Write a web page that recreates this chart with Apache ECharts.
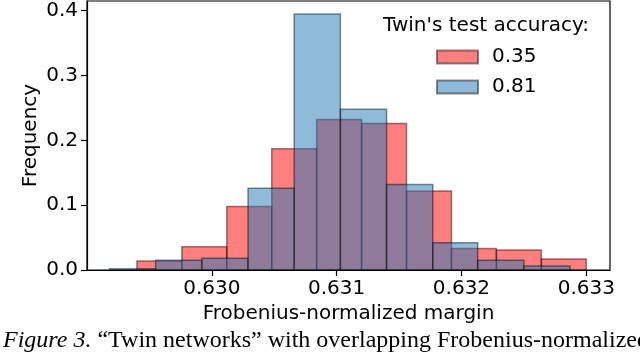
<!DOCTYPE html>
<html>
<head>
<meta charset="utf-8">
<script src="https://cdn.jsdelivr.net/npm/echarts@6/dist/echarts.min.js"></script>
<style>
  html, body { margin: 0; padding: 0; background: #fff; }
  #chart { width: 640px; height: 358px; }
</style>
</head>
<body>
<div id="chart"></div>
<script>
/* ---------- data (histogram bins) ---------- */
const seriesNames = ['0.35', '0.81'];

// twin accuracy 0.35 (red)
const redEdges = [0.62940, 0.62976, 0.63012, 0.63048, 0.63084, 0.63120,
                  0.63156, 0.63192, 0.63228, 0.63264, 0.63300];
const redFreq  = [0.014, 0.036, 0.098, 0.187, 0.232, 0.226, 0.122, 0.033, 0.031, 0.017];

// twin accuracy 0.81 (blue)
const blueEdges = [0.62918, 0.62955, 0.62992, 0.63029, 0.63066, 0.63103,
                   0.63140, 0.63177, 0.63213, 0.63250, 0.63287];
const blueFreq  = [0.002, 0.015, 0.018, 0.126, 0.395, 0.248, 0.132, 0.042, 0.015, 0.006];

const xTicks = [0.630, 0.631, 0.632, 0.633];
const yTicks = [0.0, 0.1, 0.2, 0.3, 0.4];

/* ---------- helpers ---------- */
const toBins = (edges, freq) => freq.map((f, i) => [edges[i], edges[i + 1], f]);

const FONT = 'DejaVu Sans';

function histRender(params, api) {
  const p0 = api.coord([api.value(0), api.value(2)]);
  const p1 = api.coord([api.value(1), 0]);
  return {
    type: 'rect',
    shape: { x: p0[0], y: p0[1], width: p1[0] - p0[0], height: p1[1] - p0[1] },
    style: api.style()
  };
}

const chart = echarts.init(document.getElementById('chart'));

chart.setOption({
  backgroundColor: '#fff',
  animation: false,
  textStyle: { fontFamily: FONT },
  grid: {
    left: 87, right: 30, top: 1, bottom: 88,
    show: true, borderColor: '#000', borderWidth: 1.2
  },
  xAxis: {
    type: 'value',
    min: 0.629,
    max: 0.63319,
    interval: 0.001,
    name: 'Frobenius-normalized margin',
    nameLocation: 'middle',
    nameGap: 34,
    nameMoveOverlap: false,
    nameTextStyle: { fontSize: 20, color: '#000', fontFamily: FONT, verticalAlign: 'top' },
    axisLine: { show: true, onZero: false, lineStyle: { color: '#000', width: 1.2 } },
    axisTick: { show: true, customValues: xTicks, length: 6, lineStyle: { color: '#000', width: 1.2 } },
    axisLabel: {
      customValues: xTicks,
      formatter: v => v.toFixed(3),
      fontSize: 20, color: '#000', margin: 9, fontFamily: FONT
    },
    splitLine: { show: false }
  },
  yAxis: {
    type: 'value',
    min: 0,
    max: 0.415,
    name: 'Frequency',
    nameLocation: 'middle',
    nameGap: 46,
    nameMoveOverlap: false,
    nameTextStyle: { fontSize: 20, color: '#000', fontFamily: FONT },
    axisLine: { show: true, lineStyle: { color: '#000', width: 1.2 } },
    axisTick: { show: true, customValues: yTicks, length: 6, lineStyle: { color: '#000', width: 1.2 } },
    axisLabel: {
      customValues: yTicks,
      formatter: v => v.toFixed(1),
      fontSize: 20, color: '#000', margin: 9, fontFamily: FONT
    },
    splitLine: { show: false }
  },
  legend: {
    orient: 'vertical',
    left: 436,
    top: 47,
    padding: 0,
    itemGap: 10,
    itemWidth: 41,
    itemHeight: 13,
    icon: 'rect',
    data: seriesNames,
    textStyle: { fontSize: 20, color: '#000', fontFamily: FONT, padding: [0, 0, 0, 9] }
  },
  graphic: [
    {
      type: 'text',
      left: 383,
      top: 16,
      style: { text: "Twin's test accuracy:", font: '20px "DejaVu Sans"', fill: '#000' }
    },
    {
      type: 'text',
      left: 3,
      top: 329,
      style: {
        text: '{i|Figure 3.} {n|“Twin networks” with overlapping Frobenius-normalized}',
        rich: {
          i: { fontFamily: 'Liberation Serif', fontStyle: 'italic', fontSize: 24, fill: '#000' },
          n: { fontFamily: 'Liberation Serif', fontSize: 24, fill: '#000' }
        },
        font: '24px "Liberation Serif"',
        fill: '#000'
      }
    }
  ],
  series: [
    {
      name: seriesNames[0],
      type: 'custom',
      renderItem: histRender,
      encode: { x: [0, 1], y: 2 },
      data: toBins(redEdges, redFreq),
      itemStyle: { color: 'rgba(255,0,0,0.5)', borderColor: 'rgba(0,0,0,0.45)', borderWidth: 1.5 }
    },
    {
      name: seriesNames[1],
      type: 'custom',
      renderItem: histRender,
      encode: { x: [0, 1], y: 2 },
      data: toBins(blueEdges, blueFreq),
      itemStyle: { color: 'rgba(31,119,180,0.5)', borderColor: 'rgba(0,0,0,0.45)', borderWidth: 1.5 }
    }
  ]
});
</script>
</body>
</html>
